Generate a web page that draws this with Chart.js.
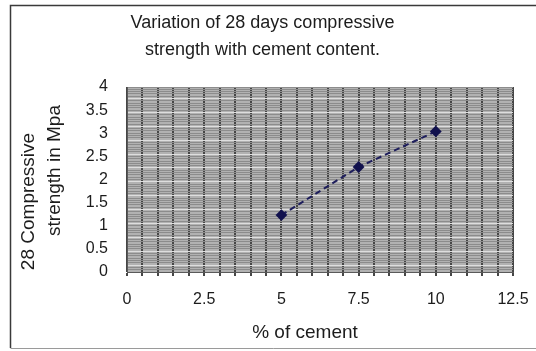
<!DOCTYPE html>
<html>
<head>
<meta charset="utf-8">
<script src="https://cdn.jsdelivr.net/npm/chart.js@4/dist/chart.umd.min.js"></script>
<style>
  html, body { margin: 0; padding: 0; background: #ffffff; }
  #wrap { position: relative; width: 536px; height: 351px; }
  canvas { display: block; }
</style>
</head>
<body>
<div id="wrap"><canvas id="c" width="536" height="351"></canvas></div>
<script>
// Cement content (%) and 28-day compressive strength (MPa)
const cementPercent = [5, 7.5, 10];
const strengthMpa = [1.23, 2.27, 3.04];

// Axis ranges and labelled tick steps
const xRange = [0, 12.5];
const xLabelStep = 2.5;
const xGridStep = 0.5;
const yRange = [0, 4];
const yLabelStep = 0.5;
const yGridStep = 0.05;

const titleLines = ['Variation of 28 days compressive', 'strength with cement content.'];
const yTitleLines = ['28 Compressive', 'strength in Mpa'];
const xTitle = '% of cement';

const FONT = "'Liberation Sans', Arial, sans-serif";
const TEXT = '#1c1c1c';

const isMultiple = (v, step) => Math.abs(Math.round(v / step) * step - v) < 1e-6;

function stepTicks(min, max, step) {
  const n = Math.round((max - min) / step);
  const t = [];
  for (let i = 0; i <= n; i++) t.push({ value: Math.round((min + i * step) * 1000) / 1000 });
  return t;
}

// Grey plot background, outer frame and the two axis titles
const framePlugin = {
  id: 'frame',
  beforeDraw(chart) {
    const { ctx, chartArea: a } = chart;
    ctx.save();
    ctx.fillStyle = '#b2b2b2';
    ctx.fillRect(a.left, a.top, a.right - a.left, a.bottom - a.top);
    ctx.restore();
  },
  afterDraw(chart) {
    const { ctx, chartArea: a } = chart;
    ctx.save();
    ctx.strokeStyle = '#3a3a3a';
    ctx.lineWidth = 1.5;
    ctx.beginPath();
    ctx.moveTo(560, 5.5);
    ctx.lineTo(10.5, 5.5);
    ctx.lineTo(10.5, 348);
    ctx.stroke();
    ctx.strokeStyle = '#9a9a9a';
    ctx.lineWidth = 1;
    ctx.beginPath();
    ctx.moveTo(10.5, 348.5);
    ctx.lineTo(560, 348.5);
    ctx.stroke();

    ctx.fillStyle = TEXT;
    ctx.textAlign = 'center';
    ctx.textBaseline = 'middle';
    ctx.font = "19px " + FONT;
    // y-axis title, two rotated lines
    const mid = (a.top + a.bottom) / 2;
    [[29, mid + 22], [55, mid - 9]].forEach(([x, y], i) => {
      ctx.save();
      ctx.translate(x, y);
      ctx.rotate(-Math.PI / 2);
      ctx.fillText(yTitleLines[i], 0, 0);
      ctx.restore();
    });
    // x-axis title
    ctx.fillText(xTitle, 305, 333);
    ctx.restore();
  }
};

new Chart(document.getElementById('c'), {
  type: 'scatter',
  data: {
    datasets: [{
      data: cementPercent.map((x, i) => ({ x, y: strengthMpa[i] })),
      showLine: true,
      borderColor: '#1e1e5c',
      borderWidth: 2,
      borderDash: [6, 4],
      pointStyle: 'rectRot',
      pointRadius: 4.5,
      pointBackgroundColor: '#12124e',
      pointBorderColor: '#12124e',
      tension: 0
    }]
  },
  options: {
    responsive: false,
    animation: false,
    layout: { padding: { left: 12, right: 23, top: 6, bottom: 6 } },
    plugins: {
      legend: { display: false },
      tooltip: { enabled: false },
      title: {
        display: true,
        text: titleLines,
        color: TEXT,
        font: { family: FONT, size: 18, weight: 'normal', lineHeight: 1.5 },
        padding: { top: 3.5, bottom: 23.5 }
      }
    },
    scales: {
      x: {
        type: 'linear',
        min: xRange[0],
        max: xRange[1],
        afterBuildTicks(scale) { scale.ticks = stepTicks(xRange[0], xRange[1], xGridStep); },
        afterFit(scale) {
          scale.height = 351 - 272 - 6;
          scale.paddingLeft = 0;
          scale.paddingRight = 0;
        },
        ticks: {
          autoSkip: false,
          maxRotation: 0,
          padding: 14,
          color: TEXT,
          font: { family: FONT, size: 16 },
          callback: (v) => isMultiple(v, xLabelStep) ? String(v) : ''
        },
        grid: {
          color: '#464646',
          lineWidth: 2,
          drawTicks: true,
          tickLength: 4
        },
        border: { display: true, color: '#5a5a5a' }
      },
      y: {
        type: 'linear',
        min: yRange[0],
        max: yRange[1],
        afterBuildTicks(scale) { scale.ticks = stepTicks(yRange[0], yRange[1], yGridStep); },
        afterFit(scale) {
          scale.width = 127 - 12;
          scale.paddingTop = 0;
          scale.paddingBottom = 0;
        },
        ticks: {
          autoSkip: false,
          padding: 19,
          color: TEXT,
          font: { family: FONT, size: 16 },
          callback: (v) => isMultiple(v, yLabelStep) ? String(v) : ''
        },
        grid: {
          color: (ctx) => (ctx.index % 6 === 3 ? '#dedede' : '#8c8c8c'),
          lineWidth: 1,
          drawTicks: false
        },
        border: { display: true, color: '#5a5a5a' }
      }
    }
  },
  plugins: [framePlugin]
});
</script>
</body>
</html>
